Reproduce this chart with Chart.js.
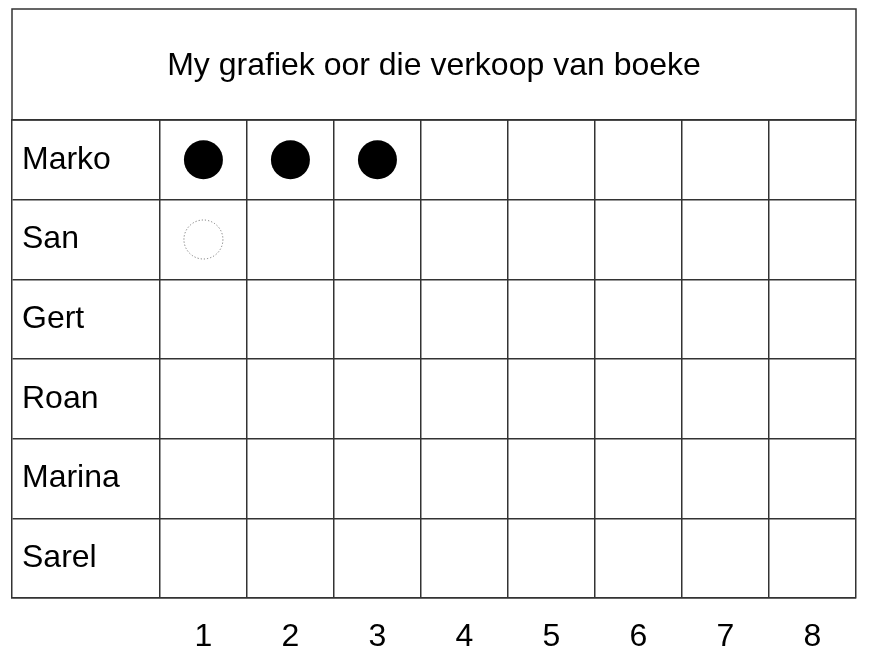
<!DOCTYPE html>
<html>
<head>
<meta charset="utf-8">
<script src="https://cdn.jsdelivr.net/npm/chart.js@4.4.1/dist/chart.umd.min.js"></script>
<style>
  html, body { margin: 0; padding: 0; background: #ffffff; }
  #wrap { width: 871px; height: 671px; }
</style>
</head>
<body>
<div id="wrap"><canvas id="c" width="871" height="671"></canvas></div>
<script>
// ---- data ----
const chartTitle = 'My grafiek oor die verkoop van boeke';
const rowLabels = ['Marko', 'San', 'Gert', 'Roan', 'Marina', 'Sarel'];
const columnTicks = [1, 2, 3, 4, 5, 6, 7, 8];
const markoDots = [1, 2, 3];      // filled dots in Marko's row
const sanDots = [1];              // dotted outline circle in San's row

const lineColor = '#333333';
const fontFamily = "'Liberation Sans', Arial, sans-serif";

const titleBoxPlugin = {
  id: 'titleBox',
  afterDraw(chart) {
    const { ctx, chartArea } = chart;
    const tb = chart.titleBlock;
    if (!tb) return;
    ctx.save();
    ctx.strokeStyle = lineColor;
    ctx.lineWidth = 1.5;
    ctx.strokeRect(chartArea.left, tb.top, chartArea.right - chartArea.left, chartArea.top - tb.top);
    ctx.restore();
  }
};

const dottedPlugin = {
  id: 'dotted',
  beforeDatasetDraw(chart, args) {
    if (args.index === 1) { chart.ctx.save(); chart.ctx.setLineDash([1.2, 2]); }
  },
  afterDatasetDraw(chart, args) {
    if (args.index === 1) { chart.ctx.restore(); }
  }
};

new Chart(document.getElementById('c'), {
  type: 'scatter',
  data: {
    datasets: [
      {
        label: 'Marko',
        data: markoDots.map(v => ({ x: v, y: 'Marko' })),
        pointRadius: 19.5,
        pointHoverRadius: 19.5,
        backgroundColor: '#000000',
        borderColor: '#000000',
        borderWidth: 0
      },
      {
        label: 'San',
        data: sanDots.map(v => ({ x: v, y: 'San' })),
        pointRadius: 19.5,
        pointHoverRadius: 19.5,
        backgroundColor: 'rgba(0,0,0,0)',
        borderColor: '#777777',
        borderWidth: 1
      }
    ]
  },
  options: {
    responsive: false,
    animation: false,
    events: [],
    layout: { autoPadding: false, padding: { left: 12, right: 15, top: 9, bottom: 0 } },
    plugins: {
      legend: { display: false },
      tooltip: { enabled: false },
      title: {
        display: true,
        text: chartTitle,
        color: '#000000',
        font: { family: fontFamily, size: 32, weight: 'normal', lineHeight: 1.2 },
        padding: { top: 38, bottom: 34.6 }
      }
    },
    scales: {
      x: {
        type: 'linear',
        position: 'bottom',
        min: -1.2,
        max: 8.5,
        afterBuildTicks: s => { s.ticks = columnTicks.map(v => ({ value: v })); },
        afterFit: s => { s.height = 73; s.paddingLeft = 0; s.paddingRight = 0; },
        ticks: {
          color: '#000000',
          font: { family: fontFamily, size: 32, lineHeight: 1.2 },
          padding: 20,
          maxRotation: 0,
          autoSkip: false,
          callback: v => String(v)
        },
        grid: { offset: true, color: lineColor, lineWidth: 1.5, drawTicks: false },
        border: { display: true, color: lineColor, width: 1.5 }
      },
      y: {
        type: 'category',
        labels: rowLabels,
        offset: true,
        position: 'left',
        afterFit: s => { s.width = 0; s.paddingTop = 0; s.paddingBottom = 0; },
        ticks: {
          mirror: true,
          color: '#000000',
          font: { family: fontFamily, size: 32, lineHeight: 1.2 },
          padding: 10
        },
        grid: { offset: true, color: lineColor, lineWidth: 1.5, drawTicks: false },
        border: { display: true, color: lineColor, width: 1.5 }
      }
    }
  },
  plugins: [titleBoxPlugin, dottedPlugin]
});
</script>
</body>
</html>
